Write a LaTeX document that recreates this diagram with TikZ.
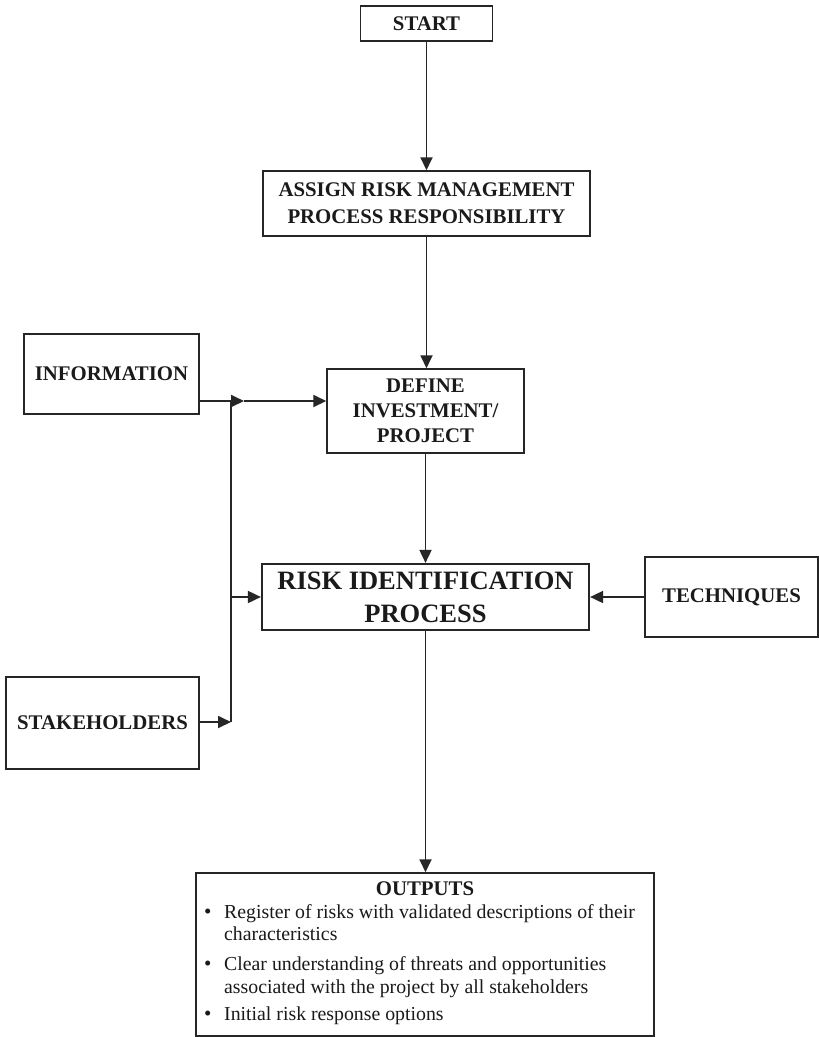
\documentclass[tikz,border=0pt]{standalone}
\usepackage{fontspec}
\setmainfont{Liberation Serif}
\usetikzlibrary{arrows.meta}
\definecolor{ink}{HTML}{1A1A1A}
\definecolor{edge}{HTML}{262626}
\tikzset{
  box/.style={draw=edge, line width=1.5pt, inner sep=0pt, text=ink, align=center,
    font=\fontsize{20.8}{26}\selectfont\bfseries},
  conn/.style={draw=edge, line width=1.8pt},
  arr/.style={conn, -{Triangle[length=13pt,width=12pt]}},
  bodytxt/.style={anchor=base west, inner sep=0pt, text=ink, font=\fontsize{19.8}{22}\selectfont},
  bul/.style={anchor=base west, inner sep=0pt, text=ink, font=\fontsize{21}{22}\selectfont},
}
\begin{document}
\begin{tikzpicture}[x=1pt,y=-1pt]
\useasboundingbox (0,0) rectangle (819,1037);
\fill[white] (0,0) rectangle (819,1037);

\node[box, minimum width=132pt, minimum height=35pt] (start) at (426.5,23.5) {START};
\node[box, minimum width=327pt, minimum height=65pt, font=\fontsize{20.8}{27}\selectfont\bfseries] (assign) at (426.5,203.5) {ASSIGN RISK MANAGEMENT\\PROCESS RESPONSIBILITY};
\node[box, minimum width=197pt, minimum height=84pt, font=\fontsize{20.8}{25}\selectfont\bfseries] (define) at (425.5,411) {DEFINE\\INVESTMENT/\\PROJECT};
\node[box, minimum width=175pt, minimum height=80pt] (info) at (111.5,374) {INFORMATION};
\node[box, minimum width=193pt, minimum height=92pt] (stake) at (102.5,723) {STAKEHOLDERS};
\node[box, line width=2.2pt, minimum width=327pt, minimum height=66pt, font=\fontsize{26.5}{33}\selectfont\bfseries] (risk) at (425.5,597) {RISK IDENTIFICATION\\PROCESS};
\node[box, minimum width=173pt, minimum height=80pt] (tech) at (731.5,597) {TECHNIQUES};
\node[box, minimum width=458pt, minimum height=163pt] (out) at (425,954.5) {};

% outputs content
\node[anchor=base, inner sep=0pt, text=ink, font=\fontsize{20.8}{25}\selectfont\bfseries] (outt) at (425,895) {OUTPUTS};
\node[bul] (b1) at (204,918) {•};
\node[bodytxt] (l1) at (224,918) {Register of risks with validated descriptions of their};
\node[bodytxt] (l2) at (224,940) {characteristics};
\node[bul] (b2) at (204,970) {•};
\node[bodytxt] (l3) at (224,970) {Clear understanding of threats and opportunities};
\node[bodytxt] (l4) at (224,993) {associated with the project by all stakeholders};
\node[bul] (b3) at (204,1020) {•};
\node[bodytxt] (l5) at (224,1020) {Initial risk response options};

% junction coordinates
\coordinate (j1) at (231,401);
\coordinate (ah) at (244,401);
\coordinate (j2) at (231,722);

% vertical flow
\draw[arr] (start.south) -- (start.south |- assign.north);
\draw[arr] (assign.south) -- (assign.south |- define.north);
\draw[arr] (define.south) -- (define.south |- risk.north);
\draw[arr] (risk.south) -- (risk.south |- out.north);

% left inputs
\draw[arr] (info.east |- j1) -- (ah);
\draw[arr] (ah) -- (define.west |- ah);
\draw[conn] (j1) -- (j2);
\draw[arr] (stake.east |- j2) -- (j2);
\draw[arr] (j1 |- risk.west) -- (risk.west);

% right input
\draw[arr] (tech.west) -- (risk.east);
\end{tikzpicture}
\end{document}
